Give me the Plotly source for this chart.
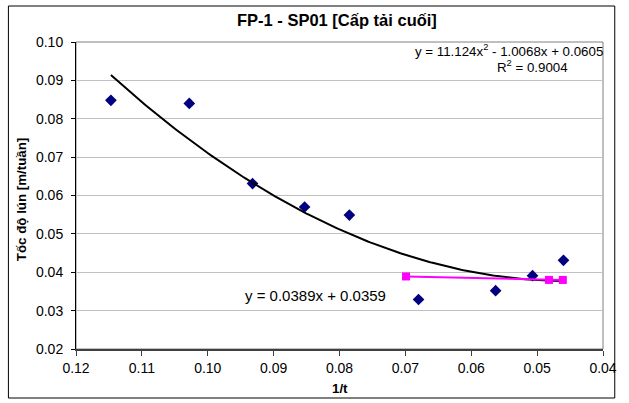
import numpy as np
import plotly.graph_objects as go

# data
x_data = [0.1147, 0.1028, 0.0932, 0.0853, 0.0785, 0.0680, 0.0563, 0.0507, 0.0460]
y_data = [0.0848, 0.0840, 0.0631, 0.0570, 0.0549, 0.0329, 0.0352, 0.0391, 0.0431]
x_mag = [0.0699, 0.0482, 0.0461]
y_mag = [0.0389, 0.0380, 0.0380]
trend_coef = [11.124, -1.0068, 0.0605]  # polynomial trendline shown on chart
title = "FP-1 - SP01 [Cấp tải cuối]"
x_title = "1/t"
y_title = "Tốc độ lún [m/tuần]"
eq_poly = "y = 11.124x<sup>2</sup> - 1.0068x + 0.0605"
eq_r2 = "R<sup>2</sup> = 0.9004"
eq_lin = "y = 0.0389x + 0.0359"
x_ticks = [0.12, 0.11, 0.10, 0.09, 0.08, 0.07, 0.06, 0.05, 0.04]
y_ticks = [0.02, 0.03, 0.04, 0.05, 0.06, 0.07, 0.08, 0.09, 0.10]

FONT = "Arial, 'Liberation Sans', sans-serif"
W, H = 629, 403
L, R, T, B = 76, 15, 42, 54
pw, ph = W - L - R, H - T - B

def px(xp):
    return (xp - L) / pw

def py(yp):
    return (H - B - yp) / ph

xt = np.linspace(max(x_data), min(x_data), 200)
yt = np.polyval(trend_coef, xt)

fig = go.Figure()
fig.add_trace(go.Scatter(x=x_data, y=y_data, mode="markers",
                         marker=dict(symbol="diamond", size=9, color="#000080"),
                         showlegend=False))
fig.add_trace(go.Scatter(x=xt, y=yt, mode="lines",
                         line=dict(color="black", width=2), showlegend=False))
fig.add_trace(go.Scatter(x=x_mag, y=y_mag, mode="lines+markers",
                         line=dict(color="#FF00FF", width=2),
                         marker=dict(symbol="square", size=8, color="#FF00FF"),
                         showlegend=False))

fig.update_layout(
    width=W, height=H,
    margin=dict(l=L, r=R, t=T, b=B),
    paper_bgcolor="white", plot_bgcolor="white",
    font=dict(family=FONT, size=13.3, color="black"),
    showlegend=False,
    xaxis=dict(range=[0.12, 0.04], tickvals=x_ticks, tickformat=".2f",
               showgrid=False, zeroline=False,
               showline=True, linecolor="#404040", linewidth=2,
               ticks="outside", ticklen=5, tickcolor="#404040",
               tickfont=dict(size=14)),
    yaxis=dict(range=[0.02, 0.10], tickvals=y_ticks, tickformat=".2f",
               showgrid=True, gridcolor="#c0c0c0", gridwidth=1,
               zeroline=False,
               showline=True, linecolor="black", linewidth=1,
               ticks="outside", ticklen=4, tickcolor="black",
               ticklabelstandoff=5,
               tickfont=dict(size=14)),
    shapes=[
        dict(type="rect", xref="paper", yref="paper", x0=0, x1=1, y0=0, y1=1,
             line=dict(color="#808080", width=1), layer="below"),
        dict(type="rect", xref="paper", yref="paper",
             x0=px(7), x1=px(626), y0=py(398), y1=py(6),
             line=dict(color="black", width=1)),
    ],
    annotations=[
        dict(text="<b>" + title + "</b>", xref="paper", yref="paper",
             x=px(342), y=py(20), showarrow=False, font=dict(size=16.5),
             xanchor="center", yanchor="middle"),
        dict(text="<b>" + x_title + "</b>", xref="paper", yref="paper",
             x=px(345), y=py(388), showarrow=False, font=dict(size=13.3),
             xanchor="center", yanchor="middle"),
        dict(text="<b>" + y_title + "</b>", xref="paper", yref="paper",
             x=px(20), y=py(200), showarrow=False, font=dict(size=13.3),
             textangle=-90, xanchor="center", yanchor="middle"),
        dict(text=eq_poly, xref="paper", yref="paper",
             x=px(616), y=py(50), showarrow=False, font=dict(size=13.3),
             xanchor="right", yanchor="middle"),
        dict(text=eq_r2, xref="paper", yref="paper",
             x=px(580), y=py(66), showarrow=False, font=dict(size=13.3),
             xanchor="right", yanchor="middle"),
        dict(text=eq_lin, xref="paper", yref="paper",
             x=px(321), y=py(295), showarrow=False, font=dict(size=15),
             xanchor="center", yanchor="middle"),
    ],
)

fig.write_html("out.html")
